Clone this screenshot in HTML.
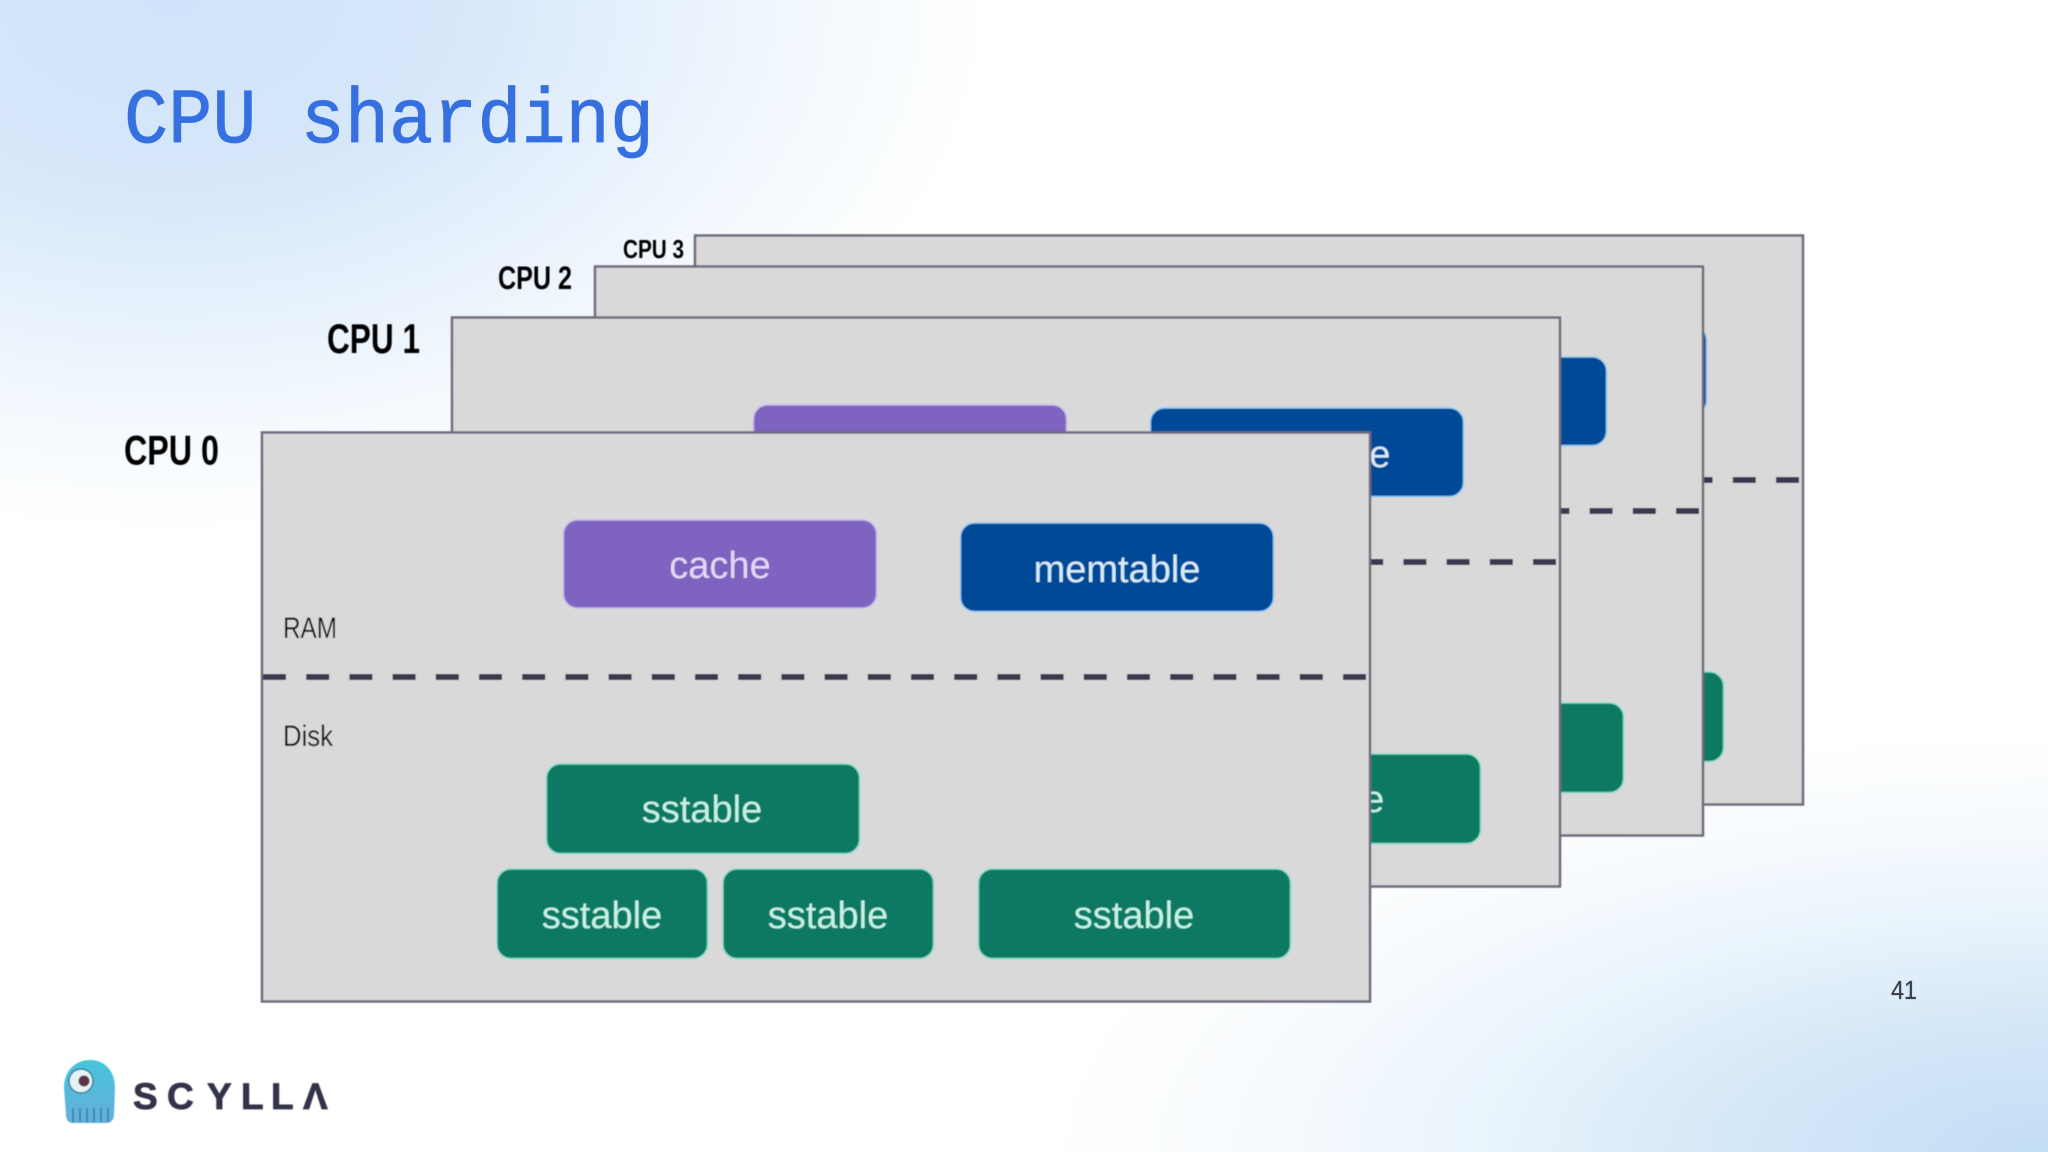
<!DOCTYPE html>
<html lang="en">
<head>
<meta charset="utf-8">
<title>CPU sharding</title>
<style>
html,body{margin:0;padding:0;width:2048px;height:1152px;overflow:hidden}
body{background:
 radial-gradient(ellipse 1000px 420px at 2048px 1152px,#c3ddf5 0,#d2e6f7 28%,#e8f3fb 55%,#f7fbfe 80%,rgba(255,255,255,0) 100%),
 radial-gradient(ellipse 1000px 650px at 170px 0,#cfe3fa 0,#d6e7fa 28%,#e8f2fc 50%,#f7fbfe 70%,#fff 82%),
 #fff}
svg{display:block;position:absolute;left:0;top:0}
.lbl{font-family:"Liberation Sans",Arial,sans-serif;font-weight:700;fill:#000}
.box{font-family:"Liberation Sans",Arial,sans-serif;font-size:38px;text-anchor:middle}
.small{font-family:"Liberation Sans",Arial,sans-serif;font-size:30px;fill:#111}
.p{fill:#d9d9d9;stroke:#6f6b7d;stroke-width:2.5}
.d{stroke:#3b3850;stroke-width:6;stroke-dasharray:23 20.2}
.c{fill:#7e63c0;stroke:#c6b8ea;stroke-width:1.5}
.m{fill:#024897;stroke:#8fc8f0;stroke-width:1.5}
.s{fill:#0d7963;stroke:#7edcc4;stroke-width:1.5}
.tc{fill:#e2d9f6}.tm{fill:#d4ecfc}.ts{fill:#c4f2e4}
</style>
</head>
<body>
<svg width="2048" height="1152" viewBox="0 0 2048 1152" xmlns="http://www.w3.org/2000/svg">
<defs>
<filter id="soft" x="-2%" y="-2%" width="104%" height="104%"><feGaussianBlur stdDeviation="0.6"/></filter>
<linearGradient id="oct" x1="0" y1="0" x2="0" y2="1"><stop offset="0" stop-color="#45c5da"/><stop offset="1" stop-color="#66aedb"/></linearGradient>
</defs>

<text x="124" y="142" font-family="'Liberation Mono',monospace" font-size="78" fill="#3670e0" stroke="#3670e0" stroke-width="0.8" textLength="530" lengthAdjust="spacingAndGlyphs">CPU sharding</text>

<g filter="url(#soft)">
<text class="lbl" x="623" y="258" font-size="26" textLength="61" lengthAdjust="spacingAndGlyphs">CPU 3</text>
<text class="lbl" x="498" y="289" font-size="32" textLength="74" lengthAdjust="spacingAndGlyphs">CPU 2</text>
<text class="lbl" x="327" y="353" font-size="42" textLength="93" lengthAdjust="spacingAndGlyphs">CPU 1</text>
<text class="lbl" x="124" y="464.5" font-size="42" textLength="95" lengthAdjust="spacingAndGlyphs">CPU 0</text>

<g transform="translate(433 -197)">
<rect class="p" x="262" y="432.5" width="1108" height="569"/>
<line class="d" x1="263" y1="677" x2="1368" y2="677"/>
<rect class="m" x="960.5" y="523" width="313" height="88.5" rx="14"/>
<rect class="s" x="978.5" y="869" width="312" height="89.5" rx="14"/>
</g>

<g transform="translate(333 -166)">
<rect class="p" x="262" y="432.5" width="1108" height="569"/>
<line class="d" x1="263" y1="677" x2="1368" y2="677"/>
<rect class="m" x="960.5" y="523" width="313" height="88.5" rx="14"/>
<rect class="s" x="978.5" y="869" width="312" height="89.5" rx="14"/>
</g>

<g transform="translate(190 -115)">
<rect class="p" x="262" y="432.5" width="1108" height="569"/>
<line class="d" x1="263" y1="677" x2="1368" y2="677"/>
<rect class="c" x="563.5" y="520" width="313" height="88" rx="14"/>
<rect class="m" x="960.5" y="523" width="313" height="88.5" rx="14"/>
<text class="box tm" x="1117" y="582">memtable</text>
<rect class="s" x="978.5" y="869" width="312" height="89.5" rx="14"/>
<text class="box ts" x="1134" y="927">sstable</text>
</g>

<g>
<rect class="p" x="262" y="432.5" width="1108" height="569"/>
<text class="small" x="283" y="638" textLength="54" lengthAdjust="spacingAndGlyphs">RAM</text>
<line class="d" x1="263" y1="677" x2="1368" y2="677"/>
<text class="small" x="283" y="746" textLength="50" lengthAdjust="spacingAndGlyphs">Disk</text>
<rect class="c" x="563.5" y="520" width="313" height="88" rx="14"/>
<text class="box tc" x="720" y="578">cache</text>
<rect class="m" x="960.5" y="523" width="313" height="88.5" rx="14"/>
<text class="box tm" x="1117" y="582">memtable</text>
<rect class="s" x="546.5" y="764" width="313" height="89.5" rx="14"/>
<text class="box ts" x="702" y="822">sstable</text>
<rect class="s" x="497" y="869" width="210.5" height="89.5" rx="14"/>
<text class="box ts" x="602" y="928">sstable</text>
<rect class="s" x="723" y="869" width="210.5" height="89.5" rx="14"/>
<text class="box ts" x="828" y="928">sstable</text>
<rect class="s" x="978.5" y="869" width="312" height="89.5" rx="14"/>
<text class="box ts" x="1134" y="928">sstable</text>
</g>

<g>
<path d="M64 1088 C64 1070 76 1060 90 1060 C104 1060 115 1070 115 1088 L114 1114 C114 1121 110 1123 106 1123 L74 1123 C69 1123 66 1121 66 1114 Z" fill="url(#oct)"/>
<circle cx="81" cy="1081" r="12" fill="#e4f2f4" stroke="#2f7f9a" stroke-width="1.5"/>
<circle cx="84" cy="1081" r="5.5" fill="#5a3048"/>
<path d="M73 1108V1122M80 1108V1122M87 1108V1122M94 1108V1122M101 1108V1122M108 1108V1122" stroke="#2c7ea8" stroke-width="1.5"/>
<g font-family="'Liberation Sans',Arial,sans-serif" font-weight="700" font-size="37" fill="#33334a" stroke="#33334a" stroke-width="0.8">
<text x="133" y="1109">S</text>
<text x="167" y="1109">C</text>
<text x="207" y="1109">Y</text>
<text x="241" y="1109">L</text>
<text x="271" y="1109">L</text>
<text x="303" y="1109">Λ</text>
</g>
</g>
</g>

<text x="1891" y="999" font-family="'Liberation Sans',Arial,sans-serif" font-size="26" fill="#3c4048" stroke="#3c4048" stroke-width="0.3" textLength="26" lengthAdjust="spacingAndGlyphs">41</text>
</svg>
</body>
</html>
